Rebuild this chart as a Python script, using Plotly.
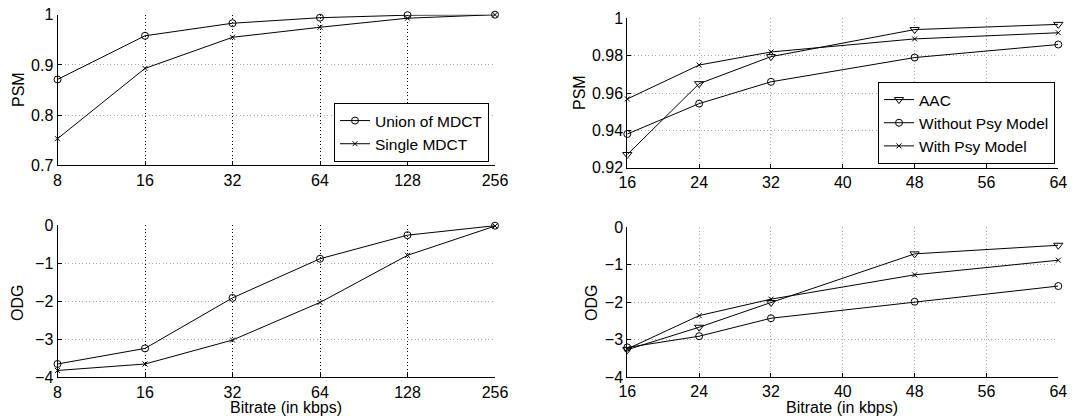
import math
import plotly.graph_objects as go

# ---------------- data ----------------
bitrate_left = [8, 16, 32, 64, 128, 256]
psm_union = [0.871, 0.958, 0.983, 0.994, 0.999, 1.0]
psm_single = [0.753, 0.893, 0.955, 0.975, 0.993, 1.0]
odg_union = [-3.65, -3.24, -1.91, -0.88, -0.26, -0.01]
odg_single = [-3.82, -3.65, -3.02, -2.03, -0.79, -0.02]

bitrate_right = [16, 24, 32, 48, 64]
psm_aac = [0.927, 0.965, 0.9795, 0.994, 0.9968]
psm_without = [0.938, 0.9543, 0.966, 0.979, 0.986]
psm_with = [0.9568, 0.975, 0.982, 0.989, 0.9923]
odg_aac = [-3.27, -2.67, -2.01, -0.71, -0.48]
odg_without = [-3.21, -2.91, -2.43, -1.99, -1.57]
odg_with = [-3.25, -2.36, -1.92, -1.27, -0.88]

left_xticks = [8, 16, 32, 64, 128, 256]
right_xticks = [16, 24, 32, 40, 48, 56, 64]
psm_left_ticks = [0.7, 0.8, 0.9, 1.0]
psm_left_text = ["0.7", "0.8", "0.9", "1"]
psm_right_ticks = [0.92, 0.94, 0.96, 0.98, 1.0]
psm_right_text = ["0.92", "0.94", "0.96", "0.98", "1"]
odg_ticks = [-4, -3, -2, -1, 0]

# ---------------- figure ----------------
W, H = 1092, 416
FONT = "Liberation Sans, Arial, Helvetica, sans-serif"
FS = 16
DOT = "1px,2.5px"
GRAY = "#a8a8a8"


def px_x(a, b):
    return [a / W, b / W]


def px_y(top, bottom):
    return [1 - bottom / H, 1 - top / H]


fig = go.Figure()

line = dict(color="black", width=1)
circ = dict(symbol="circle-open", size=7, color="black", line=dict(width=1, color="black"))
xm = dict(symbol="x-thin-open", size=5, color="black", line=dict(width=1, color="black"))
tri = dict(symbol="triangle-down-open", size=8, color="black", line=dict(width=1, color="black"))

# top-left
fig.add_trace(go.Scatter(x=bitrate_left, y=psm_union, mode="lines+markers", name="Union of MDCT",
                         line=line, marker=circ, xaxis="x", yaxis="y", legend="legend", cliponaxis=False))
fig.add_trace(go.Scatter(x=bitrate_left, y=psm_single, mode="lines+markers", name="Single MDCT",
                         line=line, marker=xm, xaxis="x", yaxis="y", legend="legend", cliponaxis=False))
# bottom-left
fig.add_trace(go.Scatter(x=bitrate_left, y=odg_union, mode="lines+markers", showlegend=False,
                         line=line, marker=circ, xaxis="x2", yaxis="y2", cliponaxis=False))
fig.add_trace(go.Scatter(x=bitrate_left, y=odg_single, mode="lines+markers", showlegend=False,
                         line=line, marker=xm, xaxis="x2", yaxis="y2", cliponaxis=False))
# top-right
fig.add_trace(go.Scatter(x=bitrate_right, y=psm_aac, mode="lines+markers", name="AAC",
                         line=line, marker=tri, xaxis="x3", yaxis="y3", legend="legend2", cliponaxis=False))
fig.add_trace(go.Scatter(x=bitrate_right, y=psm_without, mode="lines+markers", name="Without Psy Model",
                         line=line, marker=circ, xaxis="x3", yaxis="y3", legend="legend2", cliponaxis=False))
fig.add_trace(go.Scatter(x=bitrate_right, y=psm_with, mode="lines+markers", name="With Psy Model",
                         line=line, marker=xm, xaxis="x3", yaxis="y3", legend="legend2", cliponaxis=False))
# bottom-right
fig.add_trace(go.Scatter(x=bitrate_right, y=odg_aac, mode="lines+markers", showlegend=False,
                         line=line, marker=tri, xaxis="x4", yaxis="y4", cliponaxis=False))
fig.add_trace(go.Scatter(x=bitrate_right, y=odg_without, mode="lines+markers", showlegend=False,
                         line=line, marker=circ, xaxis="x4", yaxis="y4", cliponaxis=False))
fig.add_trace(go.Scatter(x=bitrate_right, y=odg_with, mode="lines+markers", showlegend=False,
                         line=line, marker=xm, xaxis="x4", yaxis="y4", cliponaxis=False))

common = dict(showline=True, linecolor="black", linewidth=1, ticks="inside", ticklen=4,
              tickcolor="black", showgrid=True, griddash=DOT, gridwidth=1, zeroline=False,
              automargin=False, tickfont=dict(family=FONT, size=FS, color="black"), mirror=False)

LX = px_x(57.5, 495)
RX = px_x(627.3, 1058.3)
eps = 1e-6
logrange = [math.log10(8) - eps, math.log10(256) + eps]

fig.update_layout(
    width=W, height=H,
    margin=dict(l=0, r=0, t=0, b=0),
    paper_bgcolor="white", plot_bgcolor="white",
    font=dict(family=FONT, size=FS, color="black"),
    xaxis=dict(common, domain=LX, anchor="y", type="log", range=logrange,
               tickvals=left_xticks, ticktext=[str(v) for v in left_xticks], gridcolor="black"),
    yaxis=dict(common, domain=px_y(14.7, 165.3), anchor="x", range=[0.7, 1.0],
               tickvals=psm_left_ticks, ticktext=psm_left_text, gridcolor=GRAY),
    xaxis2=dict(common, domain=LX, anchor="y2", type="log", range=logrange,
                tickvals=left_xticks, ticktext=[str(v) for v in left_xticks], gridcolor="black"),
    yaxis2=dict(common, domain=px_y(225.3, 377.3), anchor="x2", range=[-4, 0],
                tickvals=odg_ticks, gridcolor=GRAY),
    xaxis3=dict(common, domain=RX, anchor="y3", range=[16, 64], tickvals=right_xticks,
                gridcolor=GRAY),
    yaxis3=dict(common, domain=px_y(18.4, 167.6), anchor="x3", range=[0.92, 1.0],
                tickvals=psm_right_ticks, ticktext=psm_right_text, gridcolor=GRAY),
    xaxis4=dict(common, domain=RX, anchor="y4", range=[16, 64], tickvals=right_xticks,
                gridcolor=GRAY),
    yaxis4=dict(common, domain=px_y(227.3, 377.0), anchor="x4", range=[-4, 0],
                tickvals=odg_ticks, gridcolor=GRAY),
    legend=dict(x=489 / W, y=1 - 162 / H, xanchor="right", yanchor="bottom",
                bgcolor="white", bordercolor="black", borderwidth=1,
                font=dict(family=FONT, size=15.5, color="black"), itemwidth=30,
                tracegroupgap=0),
    legend2=dict(x=1055 / W, y=1 - 164 / H, xanchor="right", yanchor="bottom",
                 bgcolor="white", bordercolor="black", borderwidth=1,
                 font=dict(family=FONT, size=15.5, color="black"), itemwidth=30,
                 tracegroupgap=0),
)

ann = [
    dict(text="PSM", x=18 / W, y=1 - 90 / H, textangle=-90),
    dict(text="ODG", x=17 / W, y=1 - 303 / H, textangle=-90),
    dict(text="PSM", x=579 / W, y=1 - 93 / H, textangle=-90),
    dict(text="ODG", x=591 / W, y=1 - 303 / H, textangle=-90),
    dict(text="Bitrate (in kbps)", x=286 / W, y=1 - 407.5 / H),
    dict(text="Bitrate (in kbps)", x=842 / W, y=1 - 407.5 / H),
]
for a in ann:
    fig.add_annotation(xref="paper", yref="paper", showarrow=False, xanchor="center", yanchor="middle",
                       font=dict(family=FONT, size=FS, color="black"), **a)

fig.write_html("out.html")
